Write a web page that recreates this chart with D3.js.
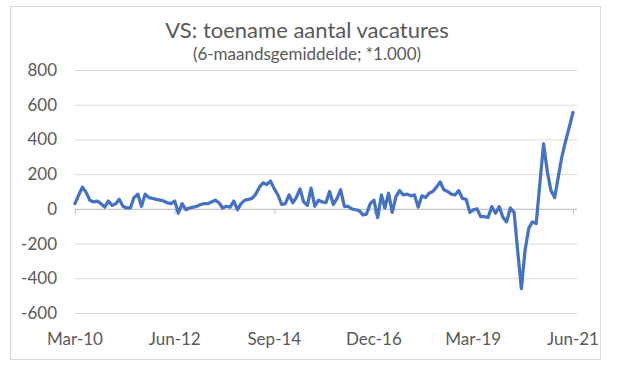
<!DOCTYPE html>
<html>
  <head>
    <title>VS: toename aantal vacatures</title>
    <script src="https://d3js.org/d3.v7.min.js"></script>
    <style>
      body { margin: 0; background: #fff; }
      text { font-family: Lato, "Open Sans", sans-serif; fill: #595959; }
    </style>
  </head>
  <body>
    <script>
      var width = 625;
      var height = 372;
      var margin = {top: 70, left: 75, right: 52, bottom: 59};

      // first month of the series
      var startMonth = new Date(2010, 2, 1);

      // 6-month average change in job openings (x1000), monthly Mar-10 .. Jun-21
      var values = [
        30, 80, 125, 95, 50, 40, 45, 30, 10, 45, 20, 30, 55, 15, 5, 5, 65, 85, 15, 85,
        65, 60, 55, 50, 45, 35, 30, 45, -25, 30, -5, 5, 10, 15, 25, 30, 30, 40, 50, 35,
        5, 15, 10, 45, -5, 30, 50, 55, 60, 85, 125, 150, 140, 160, 115, 80, 25, 30, 80, 35,
        65, 115, 40, 20, 120, 15, 50, 40, 35, 100, 25, 60, 110, 15, 15, 0, -5, -10, -35, -30,
        30, 50, -50, 80, 5, 90, -20, 70, 105, 80, 85, 75, 80, 10, 75, 65, 90, 100, 125, 155,
        110, 100, 85, 80, 105, 60, 55, -20, -5, 0, -45, -45, -50, 13, -25, 13, -50, -75, 5, -20,
        -240, -460, -240, -112, -75, -85, 150, 375, 215, 105, 65, 190, 300, 390, 470, 555
      ];

      var yTicks = [-600, -400, -200, 0, 200, 400, 600, 800];
      var xTickLabels = ["Mar-10", "Jun-12", "Sep-14", "Dec-16", "Mar-19", "Jun-21"];
      var xTickStep = 27; // months between labels

      var data = values.map(function(v, i) {
        return {date: d3.timeMonth.offset(startMonth, i), y: v};
      });

      var svg = d3.select("body")
        .append("svg")
        .attr("width", width)
        .attr("height", height);

      // chart border
      svg.append("rect")
        .attr("x", 10.5)
        .attr("y", 6.5)
        .attr("width", 590)
        .attr("height", 353)
        .attr("fill", "none")
        .attr("stroke", "#d9d9d9");

      var xScale = d3.scaleTime()
        .domain(d3.extent(data, function(d) { return d.date; }))
        .range([margin.left, width - margin.right]);

      var yScale = d3.scaleLinear()
        .domain([-600, 800])
        .range([height - margin.bottom, margin.top]);

      // gridlines
      svg.append("g")
        .attr("class", "grid")
        .attr("transform", `translate(${margin.left},0)`)
        .call(d3.axisLeft(yScale)
          .tickValues(yTicks)
          .tickSize(-(width - margin.right - margin.left + 4))
          .tickFormat(""))
        .call(function(g) {
          g.select(".domain").remove();
          g.selectAll("line").attr("stroke", "#d9d9d9");
        });

      // y labels
      svg.append("g")
        .selectAll("text")
        .data(yTicks)
        .enter()
        .append("text")
          .attr("x", 57)
          .attr("y", function(d) { return yScale(d); })
          .attr("dy", "0.35em")
          .attr("text-anchor", "end")
          .style("font-size", "17px")
          .text(function(d) { return d; });

      // x axis on the zero line
      var tickDates = xTickLabels.map(function(l, i) {
        return d3.timeMonth.offset(startMonth, i * xTickStep);
      });

      svg.append("g")
        .attr("transform", `translate(0,${yScale(0)})`)
        .call(d3.axisBottom(xScale)
          .tickValues(tickDates)
          .tickSize(5)
          .tickFormat(""))
        .call(function(g) {
          g.select(".domain")
            .attr("d", `M${margin.left},0.5H${width - margin.right + 4}`)
            .attr("stroke", "#bfbfbf");
          g.selectAll("line").attr("stroke", "#bfbfbf");
        });

      // x labels at the bottom
      svg.append("g")
        .selectAll("text")
        .data(xTickLabels)
        .enter()
        .append("text")
          .attr("x", function(d, i) { return xScale(tickDates[i]); })
          .attr("y", 345)
          .attr("text-anchor", "middle")
          .style("font-size", "17px")
          .text(function(d) { return d; });

      var line = d3.line()
        .x(function(d) { return xScale(d.date); })
        .y(function(d) { return yScale(d.y); });

      svg.append("path")
        .datum(data)
        .attr("d", line)
        .attr("fill", "none")
        .attr("stroke", "#4472c4")
        .attr("stroke-width", 3.25)
        .attr("stroke-linejoin", "round")
        .attr("stroke-linecap", "round");

      svg.append("text")
        .attr("x", 307)
        .attr("y", 38)
        .attr("text-anchor", "middle")
        .style("font-size", "22px")
        .text("VS: toename aantal vacatures");

      svg.append("text")
        .attr("x", 307)
        .attr("y", 60)
        .attr("text-anchor", "middle")
        .style("font-size", "17px")
        .text("(6-maandsgemiddelde; *1.000)");
    </script>
  </body>
</html>
